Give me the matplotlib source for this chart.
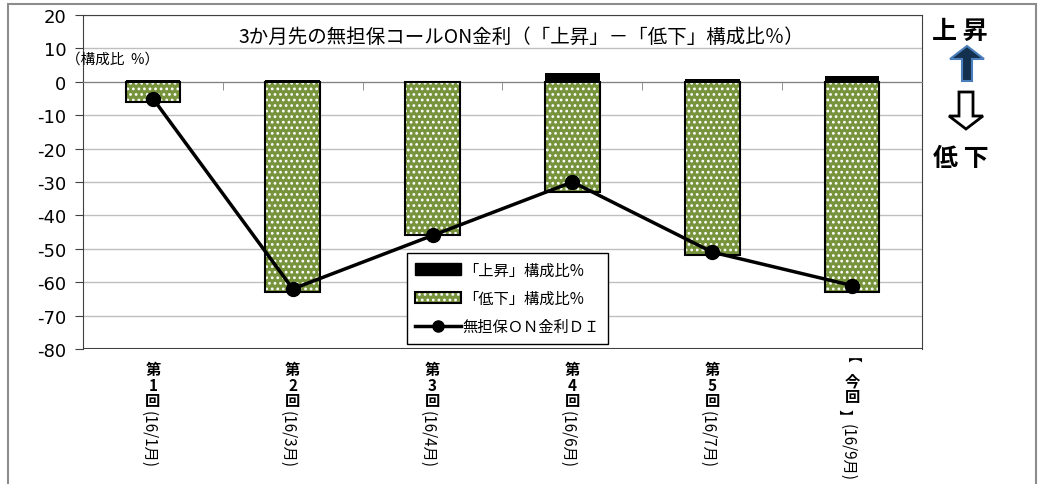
import numpy as np
import matplotlib
matplotlib.use('Agg')
import matplotlib.pyplot as plt
import matplotlib.transforms as mtrans
from matplotlib.patches import Patch, Rectangle, FancyArrow
from matplotlib.lines import Line2D

plt.rcParams['font.family'] = ['Noto Sans CJK JP', 'DejaVu Sans']
plt.rcParams['axes.unicode_minus'] = False
plt.rcParams['hatch.linewidth'] = 1.2

# data
rounds = [['第', '1', '回'], ['第', '2', '回'], ['第', '3', '回'],
          ['第', '4', '回'], ['第', '5', '回'], ['【', '今', '回', '】']]
dates = ['(16/1月)', '(16/3月)', '(16/4月)', '(16/6月)', '(16/7月)', '(16/9月)']
up = [0.6, 0.6, 0.0, 2.7, 0.9, 1.8]
down = [-6, -63, -46, -33, -52, -63]
di = [-5, -62, -46, -30, -51, -61]

green = '#77933C'
x = np.arange(len(rounds))

fig = plt.figure(figsize=(10.43, 4.85), dpi=100)
W, H = 1043, 485
ax = fig.add_axes([83 / W, 1 - 350 / H, (922 - 83) / W, (350 - 16) / H])

ax.set_ylim(-80, 20)
ax.set_xlim(-0.5, 5.5)
ax.set_yticks(range(-80, 21, 10))
ax.yaxis.grid(True, color='#BFBFBF', lw=1)
ax.set_axisbelow(True)

bw = 0.39
ax.bar(x, up, width=bw, color='black', zorder=3)
# green bars with small white dots
ax.bar(x, down, width=bw, color=green, edgecolor='white', hatch='...', lw=0, zorder=3)
ax.bar(x, down, width=bw, fill=False, edgecolor='black', lw=1.5, zorder=4)
ax.plot(x, di, color='black', lw=2.5, marker='o', ms=10, zorder=5)

for s in ['top', 'right', 'left']:
    ax.spines[s].set_color('#404040')
ax.spines['bottom'].set_position(('data', 0))
ax.spines['bottom'].set_color('#808080')
ax.axhline(-80, color='#404040', lw=1.5, zorder=2)

ax.set_xticks(x + 0.5, minor=True)
ax.set_xticks([])
ax.tick_params(axis='x', which='minor', length=6, color='#808080', direction='out')
ax.tick_params(axis='y', length=6, color='#404040', pad=6)
for lab in ax.get_yticklabels():
    lab.set_fontfamily('DejaVu Sans')
    lab.set_fontsize(13)

# category labels written vertically: upright characters then the rotated date
tr = mtrans.blended_transform_factory(ax.transData, fig.transFigure)
shift = mtrans.ScaledTranslation(-5 / 100, 0, fig.dpi_scale_trans)
bshift = mtrans.ScaledTranslation(-8 / 100, 0, fig.dpi_scale_trans)
for i in range(len(rounds)):
    chars = rounds[i]
    if len(chars) == 3:
        centers = [370, 386, 401]
        date_top = 411
    else:
        centers = [364, 381, 397, 416]
        date_top = 424
    for ch, cy in zip(chars, centers):
        if ch in '【】':
            ax.text(i, 1 - cy / H, ch, transform=tr + bshift, ha='center', va='center',
                    fontsize=10, fontweight='bold', rotation=-90)
        else:
            ax.text(i, 1 - cy / H, ch, transform=tr, ha='center', va='center',
                    fontsize=11, fontweight='bold')
    ax.text(i, 1 - date_top / H, dates[i], transform=tr + shift, rotation=-90,
            ha='center', va='top', fontsize=11)

fig.text(521 / W, 1 - 37 / H, '3か月先の無担保コールON金利（「上昇」－「低下」構成比％）',
         ha='center', va='center', fontsize=14)
fig.text(66 / W, 1 - 60 / H, '（構成比  %）', ha='left', va='center', fontsize=10.5)

# legend
h_up = Patch(facecolor='black', edgecolor='black')
h_dn = (Patch(facecolor=green, edgecolor='white', hatch='...', lw=0),
        Patch(fill=False, edgecolor='black', lw=1.5))
h_di = Line2D([], [], color='black', lw=2.5, marker='o', ms=8)
leg = ax.legend([h_up, h_dn, h_di], ['「上昇」構成比%', '「低下」構成比%', '無担保ＯＮ金利ＤＩ'],
                loc='upper left', bbox_to_anchor=(407 / W, 1 - 254 / H),
                bbox_transform=fig.transFigure, frameon=True, fancybox=False,
                edgecolor='black', framealpha=1, fontsize=11, handlelength=3.0,
                handleheight=0.8, labelspacing=0.75, borderpad=0.55, handletextpad=0.1,
                borderaxespad=0)
leg.get_frame().set_linewidth(1.0)
leg.set_zorder(10)

# right side annotation
fig.text(960 / W, 1 - 32 / H, '上 昇', ha='center', va='center', fontsize=18, fontweight='bold')
fig.text(961 / W, 1 - 159 / H, '低 下', ha='center', va='center', fontsize=18, fontweight='bold')
dpi = 100.0
fig.patches.append(FancyArrow(967 / dpi, (H - 82) / dpi, 0, 35 / dpi, width=10 / dpi,
                              head_width=34 / dpi, head_length=13 / dpi, length_includes_head=True,
                              facecolor='#14304F', edgecolor='#4A7EBB', lw=1.5,
                              transform=fig.dpi_scale_trans))
fig.patches.append(FancyArrow(966 / dpi, (H - 93) / dpi, 0, -37 / dpi, width=14 / dpi,
                              head_width=34 / dpi, head_length=13 / dpi, length_includes_head=True,
                              facecolor='white', edgecolor='black', lw=2,
                              transform=fig.dpi_scale_trans))

# outer frame
fig.patches.append(Rectangle((8 / W, -0.1), (1036 - 8) / W, 1.1 - 5 / H, fill=False,
                             edgecolor='#8C8C8C', lw=1.5, transform=fig.transFigure))

fig.savefig('out.png', dpi=100)
